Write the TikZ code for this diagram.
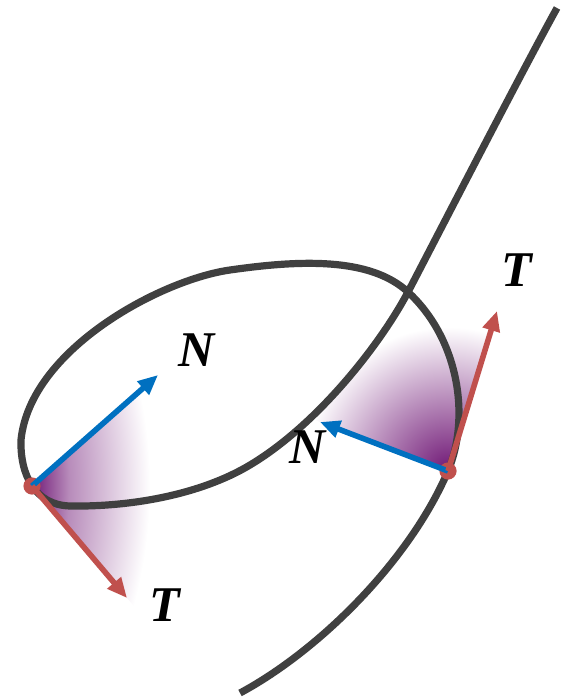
\documentclass[tikz,border=0pt]{standalone}
\usepackage{fontspec}
\setmainfont{Liberation Serif}
\usetikzlibrary{arrows.meta,calc}
\definecolor{curvegray}{RGB}{64,64,64}
\definecolor{nblue}{RGB}{0,112,192}
\definecolor{tred}{RGB}{192,80,77}
\definecolor{wedgeviolet}{RGB}{112,24,118}
\pgfdeclareradialshading{wedgefade}{\pgfpoint{0bp}{0bp}}{%
  color(0bp)=(wedgeviolet); color(5bp)=(wedgeviolet!80!white);
  color(25bp)=(white); color(50bp)=(white)}
% wide radial shading, its outer band is used as a sideways fade
\pgfdeclareradialshading{sidefade}{\pgfpoint{0bp}{0bp}}{%
  color(0bp)=(wedgeviolet); color(18.4bp)=(wedgeviolet);
  color(20.5bp)=(wedgeviolet!50!white); color(25bp)=(white); color(50bp)=(white)}

\begin{document}
\begin{tikzpicture}[x=0.5pt,y=-0.5pt,font=\fontsize{25}{28}\selectfont\bfseries\itshape,
  vec/.style={line width=2.8pt,-{Triangle[length=10pt,width=8.5pt]}}]
  \useasboundingbox (0,0) rectangle (563,699);
  % points on the curve and tips of the vectors (pixel units, y down)
  \coordinate (pL) at (32,486);
  \coordinate (nL) at (158,375);
  \coordinate (tL) at (127,598);
  \coordinate (pR) at (448,471);
  \coordinate (nR) at (320,422);
  \coordinate (tR) at (497,311);
  % fading wedges between N and T
  \begin{scope}
    \clip (pL) -- ($(pL)!2.2!(nL)$) -- ($(pL)!2.2!(tL)$) -- cycle;
    \shade[shading=sidefade] (-300,486) circle (225pt);
  \end{scope}
  \begin{scope}
    \clip (pR) -- ($(pR)!2.2!(nR)$) -- ($(pR)!2.2!(tR)$) -- cycle;
    \shade[shading=wedgefade] (pR) circle (72pt);
  \end{scope}
  % the curve
  \draw[curvegray,line width=3.6pt] (240,693)
    .. controls (320,650) and (410,560) .. (pR)
    .. controls (470,419) and (460,340) .. (408,292)
    .. controls (370,257) and (300,260) .. (230,270)
    .. controls (160,280) and (30,350) .. (21,440)
    .. controls (20,475) and (35,505) .. (70,506)
    .. controls (130,507) and (200,495) .. (250,465)
    .. controls (317,425) and (380,345) .. (408,292)
    .. controls (430,250) and (520,75) .. (557,8);
  \foreach \p in {pL,pR}
    \fill[tred] (\p) circle (4.3pt);
  \draw[vec,nblue] (pL) -- (nL);
  \draw[vec,tred] (pL) -- (tL);
  \draw[vec,nblue] (pR) -- (nR);
  \draw[vec,tred] (pR) -- (tR);
  % labels
  \node (labNL) at (197,350) {N};
  \node (labTL) at (165,605) {T};
  \node (labNR) at (308,447) {N};
  \node (labTR) at (517,270) {T};
\end{tikzpicture}
\end{document}
